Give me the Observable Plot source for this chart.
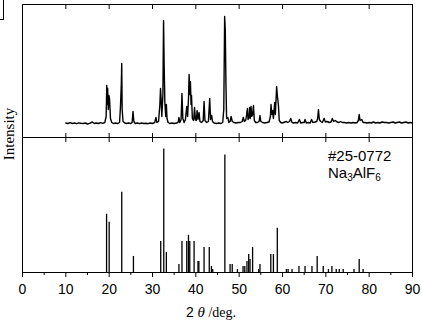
<!DOCTYPE html>
<html>
<head>
<meta charset="utf-8">
<script src="https://cdn.jsdelivr.net/npm/d3@7"></script>
<script src="https://cdn.jsdelivr.net/npm/@observablehq/plot@0.6"></script>
<style>
  html, body { margin: 0; padding: 0; background: white; }
  #wrap { position: relative; width: 422px; height: 326px; overflow: hidden; }
  #wrap svg { position: absolute; left: 0; top: 0; }
  .lab { position: absolute; white-space: nowrap; color: black; }
</style>
</head>
<body>
<div id="wrap"></div>
<script>
// ---- measured XRD pattern (2θ in degrees, intensity in arbitrary units) ----
const patternTheta = [
  10.0,10.5,11.0,11.5,12.0,12.5,13.0,13.5,14.0,14.5,15.0,15.5,16.1,16.6,17.0,17.5,18.0,18.5,
  19.0,19.3,19.45,19.55,19.65,19.8,19.95,20.1,20.3,20.6,21.0,21.5,22.0,22.4,22.6,22.8,22.9,23.0,
  23.2,23.6,24.0,24.5,25.0,25.3,25.5,25.7,26.0,26.5,27.0,27.5,28.0,28.5,29.0,29.5,30.0,30.5,
  30.8,31.0,31.4,31.7,31.85,32.0,32.15,32.4,32.55,32.7,32.85,33.05,33.2,33.35,33.6,34.0,34.5,35.0,
  35.5,35.9,36.1,36.3,36.6,36.8,37.0,37.3,37.6,37.9,38.1,38.3,38.45,38.6,38.75,38.9,39.0,39.2,
  39.5,39.7,39.9,40.1,40.3,40.5,40.75,40.95,41.3,41.7,41.9,42.1,42.5,42.9,43.2,43.4,43.65,43.85,
  44.2,44.8,45.3,45.8,46.2,46.45,46.65,46.8,46.95,47.1,47.4,47.6,47.9,48.15,48.4,48.8,49.3,49.8,
  50.3,50.7,50.95,51.2,51.5,51.7,51.9,52.05,52.3,52.4,52.55,52.75,52.9,53.1,53.3,53.5,53.8,54.2,
  54.6,54.8,55.0,55.4,55.9,56.4,56.9,57.2,57.35,57.5,57.7,57.9,58.2,58.35,58.65,58.85,59.05,59.25,
  59.6,60.0,60.5,60.9,61.2,61.6,61.9,62.2,62.6,63.0,63.5,63.9,64.2,64.7,65.0,65.2,65.5,66.0,
  66.4,66.7,67.0,67.5,67.9,68.1,68.3,68.5,68.8,69.2,69.6,69.9,70.3,70.8,71.2,71.5,71.8,72.2,
  72.6,73.0,73.4,73.8,74.3,74.8,75.3,75.8,76.3,76.8,77.2,77.5,77.7,77.9,78.3,78.6,79.0,79.5,
  80.0,80.5,81.0,81.5,82.0,82.5,83.0,83.5,84.0,84.5,85.0,85.5,86.0,86.5,87.0,87.5,88.0,88.5,
  89.0,89.5,90.0
];
const patternIntensity = [
  1.5,1,1.8,1,1.5,0.8,1.6,1.2,1,1.5,0.5,1.2,2.5,1,1.5,1,1.8,1.2,
  2,8,39,20,36,15,29,25,6,2,1,1.5,1,2,17,40,61,15,
  3,1.5,1,1.5,1,2,13,3,1,1.5,0.8,1.5,1,1.2,0.8,1.5,1,2,
  7,2,3,20,36,24,8,30,104,57,22,8,20,6,2,1,1.5,1,
  1.5,2,7,2,5,31,6,2,5,18,8,25,50,30,43,20,29,6,
  4,17,5,4,14,5,12,3,2,4,23,4,2,3,26,5,9,3,
  1.5,1,1.5,1,2,15,108,94,40,6,7,2,3,8,3,2,1.5,2,
  2,3,7,3,4,9,16,5,8,17,6,18,8,10,19,4,2,2,
  3,9,3,2,1.5,2,2.5,8,20,10,14,6,22,10,38,27,20,4,
  2,1.5,2.5,3,2,3,6,2,1.5,2,1.5,5,1.5,2,2,5,1.5,2,
  1.5,5,2,2.5,3,6,14.7,5,3,2,6,2.5,3,2,2.5,6,3,4,
  2.5,2,3,2,2,1.5,2,1.5,2,1.5,2,4,10,4,5,2,2,1.5,
  2,1.5,2.5,1.5,2,1.5,2.5,2,2,1.5,2,2.5,1.5,2,2.5,1.5,2,2.5,
  1.5,2,1.5
];

// ---- reference card #25-0772 Na3AlF6 (2θ, relative intensity) ----
const refTheta = [
  19.4,20.0,22.9,25.6,31.9,32.6,33.2,36.1,36.8,37.9,38.3,38.6,39.6,40.5,40.7,41.9,43.1,43.6,43.9,
  46.7,47.9,48.4,49.6,50.9,51.3,51.8,52.2,52.5,53.1,54.5,54.8,57.3,57.9,58.8,60.9,61.3,62.2,
  63.8,65.2,66.8,68.0,69.4,70.6,71.4,72.4,73.1,74.0,76.5,77.7,78.6
];
const refIntensity = [
  58,50,80,16,31,123,20,8,31,31,37,31,31,11,11,25,25,6,3,
  117,8,8,3,6,6,11,18,13,25,3,8,18,18,44,3,3,3,
  6,6,6,16,6,3,6,3,3,3,3,13,3
];

// ---- axis ticks and labels ----
const majorTicks = [0,10,20,30,40,50,60,70,80,90];
const innerTicks = [10,20,30,40,50,60,70,80];
const minorTicks = [5,15,25,35,45,55,65,75,85];
const xLabelNum = "2 ";
const xLabelSym = "θ";
const xLabelUnit = " /deg.";
const yLabel = "Intensity";
const cardNumber = "#25-0772";
const phaseParts = [["Na",""],["3","sub"],["AlF",""],["6","sub"]];

const pattern = patternTheta.map((t, i) => ({t, v: patternIntensity[i]}));
const sticks = refTheta.map((t, i) => ({t, v: refIntensity[i]}));

const common = {
  width: 422,
  marginLeft: 22,
  marginRight: 10,
  x: {domain: [0, 90]},
  style: {background: "transparent", color: "black", fontFamily: "'Liberation Sans', Arial, sans-serif", fontSize: "14px"}
};

const topPlot = Plot.plot({
  ...common,
  height: 138,
  marginTop: 4,
  marginBottom: 1,
  y: {domain: [-13, 120], axis: null},
  marks: [
    Plot.axisX(innerTicks, {anchor: "top", tickSize: -4, tickFormat: () => "", label: null}),
    Plot.axisX(innerTicks, {anchor: "bottom", tickSize: -4, tickFormat: () => "", label: null}),
    Plot.line(pattern, {x: "t", y: "v", stroke: "black", strokeWidth: 1.4}),
    Plot.frame({stroke: "black", strokeWidth: 1})
  ]
});

const bottomPlot = Plot.plot({
  ...common,
  height: 326,
  marginTop: 137,
  marginBottom: 54,
  y: {domain: [0, 134.5], axis: null},
  marks: [
    Plot.axisX(innerTicks, {anchor: "top", tickSize: -4, tickFormat: () => "", label: null}),
    Plot.axisX(majorTicks, {anchor: "bottom", tickSize: 5, tickPadding: 7, fontSize: 14, label: null}),
    Plot.axisX(minorTicks, {anchor: "bottom", tickSize: 3, tickFormat: () => "", label: null}),
    Plot.ruleX(sticks, {x: "t", y1: 0, y2: "v", stroke: "black", strokeWidth: 1.3}),
    Plot.frame({stroke: "black", strokeWidth: 1})
  ]
});

const wrap = document.getElementById("wrap");
wrap.appendChild(topPlot);
wrap.appendChild(bottomPlot);

// corner of the cropped panel-label box
const corner = document.createElement("div");
corner.style.cssText = "position:absolute;left:-2px;top:-2px;width:5px;height:21px;border-right:1px solid black;border-bottom:1px solid black;";
wrap.appendChild(corner);

// y label
const yl = document.createElement("div");
yl.className = "lab";
yl.textContent = yLabel;
yl.style.cssText += "left:8.5px;top:134px;transform:translate(-50%,-50%) rotate(-90deg);font:15px/15px 'Liberation Serif','DejaVu Serif',serif;";
wrap.appendChild(yl);

// x label
const xl = document.createElement("div");
xl.className = "lab";
xl.style.cssText += "left:211px;top:312px;transform:translate(-50%,-50%);font:14px 'Liberation Serif',serif;";
const s1 = document.createElement("span"); s1.textContent = xLabelNum; s1.style.fontFamily = "'Liberation Sans',Arial,sans-serif";
const s2 = document.createElement("span"); s2.textContent = xLabelSym; s2.style.fontStyle = "italic"; s2.style.fontSize = "15px";
const s3 = document.createElement("span"); s3.textContent = xLabelUnit;
xl.append(s1, s2, s3);
wrap.appendChild(xl);

// card annotation
const ann = document.createElement("div");
ann.className = "lab";
ann.style.cssText += "left:328px;top:147px;font:15px 'Liberation Sans',Arial,sans-serif;line-height:17px;";
const l1 = document.createElement("div"); l1.textContent = cardNumber;
const l2 = document.createElement("div");
for (const [txt, kind] of phaseParts) {
  const el = document.createElement(kind === "sub" ? "sub" : "span");
  el.textContent = txt;
  if (kind === "sub") { el.style.fontSize = "10px"; el.style.verticalAlign = "-3px"; el.style.lineHeight = "0"; }
  l2.appendChild(el);
}
ann.append(l1, l2);
wrap.appendChild(ann);
</script>
</body>
</html>
